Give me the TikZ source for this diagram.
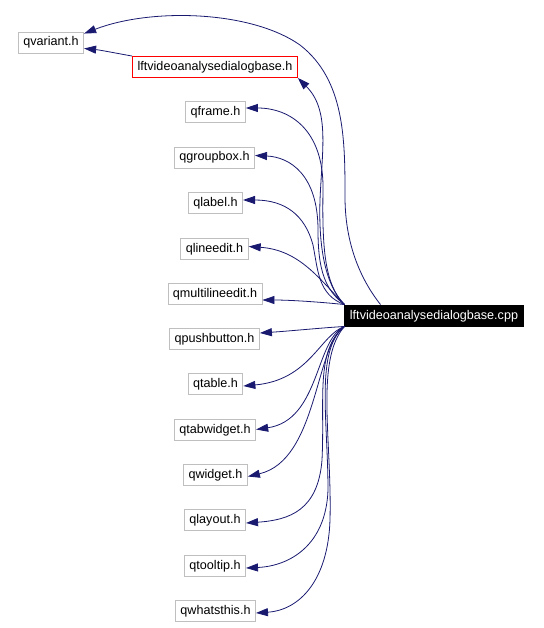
\documentclass[tikz,border=0pt]{standalone}
\usepackage{fontspec}
\setmainfont{Liberation Sans}
\usetikzlibrary{arrows.meta,calc}
\definecolor{edgeblue}{RGB}{25,25,112}
\definecolor{boxgray}{RGB}{191,191,191}
\tikzset{
  hdr/.style={draw=boxgray, line width=0.9pt, fill=white, inner xsep=5pt, inner ysep=0pt,
    minimum height=21pt, text height=9.5pt, text depth=2.5pt, font=\fontsize{12.6}{14}\selectfont},
  hdrred/.style={hdr, draw=red},
  cppbox/.style={hdr, draw=black, fill=black, text=white, minimum height=21pt},
  edge/.style={draw=edgeblue, line width=0.8pt, -{Triangle[length=12pt,width=8pt]}}
}
\begin{document}
\begin{tikzpicture}[x=1pt,y=-1pt]
\useasboundingbox (0,0) rectangle (543,628);
\node[hdr] (qvariant) at (51,42.5) {qvariant.h};
\node[hdrred] (lfth) at (215,67) {lftvideoanalysedialogbase.h};
\node[hdr] (qframe) at (215.5,112) {qframe.h};
\node[hdr] (qgroupbox) at (214.5,157.5) {qgroupbox.h};
\node[hdr] (qlabel) at (215.5,203) {qlabel.h};
\node[hdr] (qlineedit) at (214.5,248.5) {qlineedit.h};
\node[hdr] (qmultilineedit) at (215,294) {qmultilineedit.h};
\node[hdr] (qpushbutton) at (214.5,339) {qpushbutton.h};
\node[hdr] (qtable) at (215.5,384) {qtable.h};
\node[hdr] (qtabwidget) at (215,429.5) {qtabwidget.h};
\node[hdr] (qwidget) at (215.5,474.5) {qwidget.h};
\node[hdr] (qlayout) at (215,520) {qlayout.h};
\node[hdr] (qtooltip) at (215,566) {qtooltip.h};
\node[hdr] (qwhatsthis) at (215.5,611) {qwhatsthis.h};
\node[cppbox] (cpp) at (434,315.5) {lftvideoanalysedialogbase.cpp};

% edges
\draw[edge] ($(cpp.north west)+(36,0)$) .. controls (365,285) and (345,250) .. (345,197)
   .. controls (345,140) and (345,80) .. (300,45)
   .. controls (250,10) and (150,8) .. ($(qvariant.north east)+(0,2)$);
\draw[edge] (lfth.north west) .. controls (115,53) and (100,50) .. ($(qvariant.east)+(0,6)$);
\draw[edge] (cpp.north west) .. controls (330,290) and (318,260) .. (320,200)
   .. controls (322,150) and (330,110) .. (lfth.south east);
\draw[edge] (cpp.north west) .. controls (325,285) and (322,250) .. (323,190)
   .. controls (324,130) and (290,108) .. ($(qframe.east)+(0,-4)$);
\draw[edge] (cpp.north west) .. controls (325,290) and (318,270) .. (318,230)
   .. controls (318,175) and (290,157) .. ($(qgroupbox.east)+(0,-2)$);
\draw[edge] (cpp.north west) .. controls (318,295) and (318,270) .. (313,245)
   .. controls (305,215) and (285,200) .. ($(qlabel.east)+(0,-3)$);
\draw[edge] (cpp.north west) .. controls (320,280) and (300,250) .. ($(qlineedit.east)+(0,-2)$);
\draw[edge] (cpp.north west) .. controls (320,302) and (290,300) .. ($(qmultilineedit.east)+(0,6)$);
\draw[edge] (cpp.south west) .. controls (320,328) and (290,331) .. ($(qpushbutton.east)+(0,-6)$);
\draw[edge] (cpp.south west) .. controls (320,335) and (310,380) .. ($(qtable.east)+(0,2)$);
\draw[edge] (cpp.south west) .. controls (315,340) and (320,420) .. (qtabwidget.east);
\draw[edge] (cpp.south west) .. controls (315,345) and (318,460) .. ($(qwidget.east)+(0,2)$);
\draw[edge] (cpp.south west) .. controls (315,350) and (325,400) .. (322,460)
   .. controls (318,510) and (290,520) .. ($(qlayout.east)+(0,3)$);
\draw[edge] (cpp.south west) .. controls (315,350) and (328,420) .. (328,490)
   .. controls (326,545) and (290,566) .. ($(qtooltip.east)+(0,2)$);
\draw[edge] (cpp.south west) .. controls (315,360) and (332,440) .. (330,520)
   .. controls (328,580) and (300,610) .. ($(qwhatsthis.east)+(0,2)$);
\end{tikzpicture}
\end{document}
